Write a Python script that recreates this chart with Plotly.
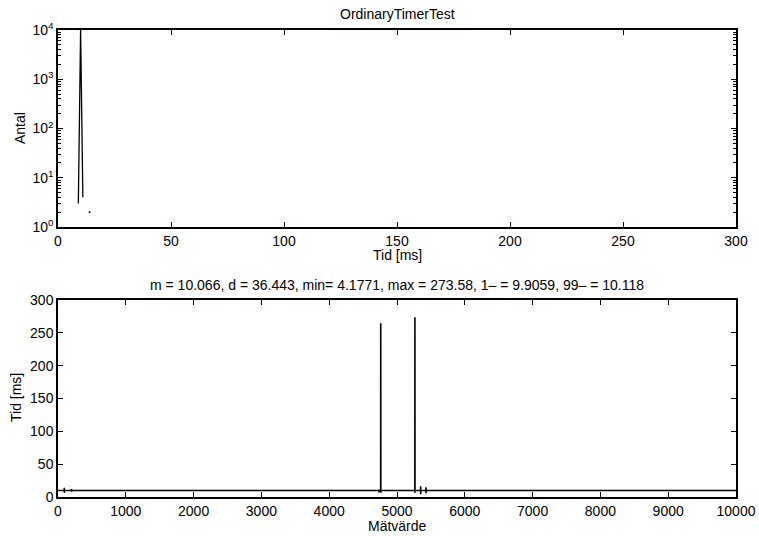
import plotly.graph_objects as go

# Histogram of timer periods (bin centre in ms, number of samples)
hist_ms = [9, 10, 11, 12, 13, 14]
hist_count = [3, 9985, 4, 0, 0, 2]

# Measured period per sample: breakpoints of the series (sample number, ms)
sample_no = [1, 92, 93, 94, 95, 200, 201, 202, 203, 4733, 4734, 4735, 4736,
             4759, 4760, 4761, 4762, 5263, 5264, 5265, 5266, 5348, 5349, 5350,
             5351, 5426, 5427, 5428, 5429, 10000]
period_ms = [10, 10, 14.2, 6.5, 10, 10, 12, 8, 10, 10, 11.5, 7, 10,
             10, 264.5, 6.5, 10, 10, 273.58, 6.5, 10, 10, 16.5, 4.1771,
             10, 10, 14.8, 5.6, 10, 10]

hist_ticks = [0, 50, 100, 150, 200, 250, 300]
count_ticks = [1, 10, 100, 1000, 10000]
count_labels = ["10<sup>0</sup>", "10<sup>1</sup>", "10<sup>2</sup>",
                "10<sup>3</sup>", "10<sup>4</sup>"]
sample_ticks = list(range(0, 10001, 1000))
period_ticks = [0, 50, 100, 150, 200, 250, 300]

top_title = "OrdinaryTimerTest"
stats_title = ("m = 10.066, d = 36.443, min= 4.1771, max = 273.58, "
               "1\u2013 = 9.9059, 99\u2013 = 10.118")

W, H = 759, 536
L, R = 58, 736
TOP_Y0, TOP_Y1 = 30, 227
BOT_Y0, BOT_Y1 = 300, 497

def px_x(v):
    return v / W

def px_y(v):
    return 1 - v / H

FONT = "Liberation Sans, Arial, Helvetica, sans-serif"
BLACK = "#000000"

counts = [c if c > 0 else None for c in hist_count]
iso_x, iso_y = [], []
for i, c in enumerate(counts):
    if c is None:
        continue
    left = counts[i - 1] if i > 0 else None
    right = counts[i + 1] if i + 1 < len(counts) else None
    if left is None and right is None:
        iso_x.append(hist_ms[i])
        iso_y.append(c)

fig = go.Figure()
fig.add_trace(go.Scatter(x=hist_ms, y=counts, mode="lines",
                         line=dict(color=BLACK, width=1.3),
                         connectgaps=False, xaxis="x", yaxis="y",
                         showlegend=False, hoverinfo="skip"))
fig.add_trace(go.Scatter(x=iso_x, y=iso_y, mode="markers",
                         marker=dict(color=BLACK, size=2),
                         xaxis="x", yaxis="y", showlegend=False))
fig.add_trace(go.Scatter(x=sample_no, y=period_ms, mode="lines",
                         line=dict(color=BLACK, width=1.6),
                         xaxis="x2", yaxis="y2", showlegend=False))

axis_common = dict(
    showline=True, linecolor=BLACK, linewidth=1.5, mirror="ticks",
    ticks="inside", ticklen=5, tickcolor=BLACK, tickwidth=1,
    showgrid=False, zeroline=False, automargin=False,
    tickfont=dict(family=FONT, size=14, color=BLACK),
)

minor_vals = [m * 10 ** k for k in range(4) for m in range(2, 10)]

fig.update_layout(
    width=W, height=H,
    margin=dict(l=0, r=0, t=0, b=0),
    paper_bgcolor="white", plot_bgcolor="white",
    font=dict(family=FONT, size=14, color=BLACK),
    xaxis=dict(domain=[px_x(L), px_x(R)], anchor="y", range=[0, 300],
               tickmode="array", tickvals=hist_ticks,
               ticktext=[str(v) for v in hist_ticks], **axis_common),
    yaxis=dict(domain=[px_y(TOP_Y1), px_y(TOP_Y0)], anchor="x", type="log",
               range=[0, 4], tickmode="array", tickvals=count_ticks,
               ticktext=count_labels,
               minor=dict(tickmode="array", tickvals=minor_vals, ticks="inside",
                          ticklen=3, tickcolor=BLACK, showgrid=False),
               **axis_common),
    xaxis2=dict(domain=[px_x(L), px_x(R)], anchor="y2", range=[0, 10000],
                tickmode="array", tickvals=sample_ticks,
                ticktext=[str(v) for v in sample_ticks], **axis_common),
    yaxis2=dict(domain=[px_y(BOT_Y1), px_y(BOT_Y0)], anchor="x2",
                range=[0, 300], tickmode="array", tickvals=period_ticks,
                ticktext=[str(v) for v in period_ticks], **axis_common),
)

def label(text, x, y, angle=0):
    fig.add_annotation(text=text, x=px_x(x), y=px_y(y), xref="paper", yref="paper",
                       showarrow=False, textangle=angle,
                       font=dict(family=FONT, size=14, color=BLACK),
                       xanchor="center", yanchor="middle")

label(top_title, (L + R) / 2, 14)
label("Tid [ms]", (L + R) / 2, 255)
label("Antal", 20, 128, -90)
label(stats_title, (L + R) / 2, 285)
label("Mätvärde", (L + R) / 2, 526)
label("Tid [ms]", 16, 398, -90)

fig.write_html("out.html")
